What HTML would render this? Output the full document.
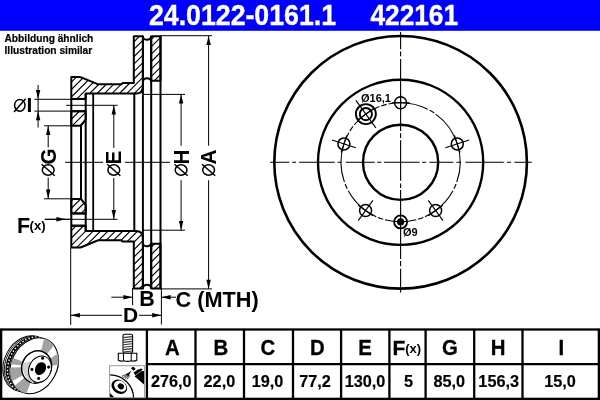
<!DOCTYPE html>
<html><head><meta charset="utf-8"><style>
html,body{margin:0;padding:0;background:#fff;width:600px;height:400px;overflow:hidden}
svg{display:block;will-change:transform}
</style></head><body>
<svg width="600" height="400" viewBox="0 0 600 400">
<rect x="0" y="0" width="600" height="30.8" fill="#0000ff"/>
<text x="149" y="24.8" font-family='"Liberation Sans", sans-serif' font-weight="bold" font-size="29.5" fill="#fff" stroke="#fff" stroke-width="0.4" transform="translate(149 0) scale(0.905 1) translate(-149 0)">24.0122-0161.1</text>
<text x="370.5" y="24.8" font-family='"Liberation Sans", sans-serif' font-weight="bold" font-size="29.5" fill="#fff" stroke="#fff" stroke-width="0.4" transform="translate(370.5 0) scale(0.89 1) translate(-370.5 0)">422161</text>
<text x="4.5" y="41.7" font-family='"Liberation Sans", sans-serif' font-weight="bold" font-size="10.2" stroke="#000" stroke-width="0.2" fill="#000">Abbildung ähnlich</text>
<text x="4.5" y="53.6" font-family='"Liberation Sans", sans-serif' font-weight="bold" font-size="10.2" stroke="#000" stroke-width="0.2" fill="#000">Illustration similar</text>
<circle cx="400.6" cy="162.3" r="126.3" fill="none" stroke="#000" stroke-width="2.6"/>
<circle cx="400.6" cy="162.3" r="82.6" fill="none" stroke="#000" stroke-width="2.4"/>
<circle cx="400.6" cy="162.3" r="37.6" fill="none" stroke="#000" stroke-width="2.4"/>
<path d="M400.60,102.70 A59.6,59.6 0 0 1 427.67,109.20 M429.79,110.34 A59.6,59.6 0 0 1 434.29,113.13 M435.67,114.11 A59.6,59.6 0 0 1 457.28,143.88 M400.60,102.70 A59.6,59.6 0 0 0 388.39,103.96 M386.63,104.36 A59.6,59.6 0 0 0 381.16,105.96 M379.47,106.57 A59.6,59.6 0 0 0 365.57,114.08 M343.92,143.88 A59.6,59.6 0 0 1 348.89,132.66 M349.81,131.11 A59.6,59.6 0 0 1 353.02,126.40 M354.13,124.98 A59.6,59.6 0 0 1 365.57,114.08 M343.92,143.88 A59.6,59.6 0 0 0 344.42,182.19 M345.11,184.06 A59.6,59.6 0 0 0 347.22,188.81 M348.24,190.76 A59.6,59.6 0 0 0 365.57,210.52 M457.28,143.88 A59.6,59.6 0 0 1 456.78,182.19 M456.09,184.06 A59.6,59.6 0 0 1 453.98,188.81 M452.96,190.76 A59.6,59.6 0 0 1 435.63,210.52 M365.57,210.52 A59.6,59.6 0 0 0 376.19,216.67 M377.84,217.39 A59.6,59.6 0 0 0 383.21,219.31 M384.94,219.81 A59.6,59.6 0 0 0 400.60,221.90 M435.63,210.52 A59.6,59.6 0 0 1 425.01,216.67 M423.36,217.39 A59.6,59.6 0 0 1 417.99,219.31 M416.26,219.81 A59.6,59.6 0 0 1 400.60,221.90" fill="none" stroke="#000" stroke-width="1.1"/>
<path d="M270.10,162.3 L289.40,162.3 M292.10,162.3 L296.10,162.3 M299.10,162.3 L334.80,162.3 M337.40,162.3 L341.60,162.3 M345.80,162.3 L374.80,162.3 M377.10,162.3 L381.40,162.3 M384.10,162.3 L419.70,162.3 M422.10,162.3 L426.10,162.3 M429.40,162.3 L453.40,162.3 M456.40,162.3 L461.10,162.3 M465.50,162.3 L503.80,162.3 M506.80,162.3 L511.10,162.3 M514.40,162.3 L531.80,162.3 M400.6,32.10 L400.6,49.30 M400.6,51.40 L400.6,56.30 M400.6,58.90 L400.6,130.90 M400.6,133.20 L400.6,137.90 M400.6,140.20 L400.6,180.70 M400.6,183.60 L400.6,188.00 M400.6,190.10 L400.6,259.10 M400.6,260.90 L400.6,266.20 M400.6,268.80 L400.6,292.40" stroke="#000" stroke-width="1.1" fill="none"/>
<circle cx="400.60" cy="102.70" r="6.0" fill="none" stroke="#000" stroke-width="1.5"/>
<line x1="400.6" y1="94.70000000000002" x2="400.6" y2="110.70000000000002" stroke="#000" stroke-width="1.1"/>
<line x1="409.60" y1="102.70" x2="391.60" y2="102.70" stroke="#000" stroke-width="1.1"/>
<circle cx="343.92" cy="143.88" r="6.0" fill="none" stroke="#000" stroke-width="1.5"/>
<line x1="355.81" y1="147.75" x2="332.03" y2="140.02" stroke="#000" stroke-width="1.1"/>
<line x1="346.70" y1="135.32" x2="341.14" y2="152.44" stroke="#000" stroke-width="1.1"/>
<circle cx="365.57" cy="210.52" r="6.0" fill="none" stroke="#000" stroke-width="1.5"/>
<line x1="372.92" y1="200.40" x2="358.22" y2="220.63" stroke="#000" stroke-width="1.1"/>
<line x1="358.29" y1="205.23" x2="372.85" y2="215.81" stroke="#000" stroke-width="1.1"/>
<circle cx="435.63" cy="210.52" r="6.0" fill="none" stroke="#000" stroke-width="1.5"/>
<line x1="428.28" y1="200.40" x2="442.98" y2="220.63" stroke="#000" stroke-width="1.1"/>
<line x1="428.35" y1="215.81" x2="442.91" y2="205.23" stroke="#000" stroke-width="1.1"/>
<circle cx="457.28" cy="143.88" r="6.0" fill="none" stroke="#000" stroke-width="1.5"/>
<line x1="445.39" y1="147.75" x2="469.17" y2="140.02" stroke="#000" stroke-width="1.1"/>
<line x1="460.06" y1="152.44" x2="454.50" y2="135.32" stroke="#000" stroke-width="1.1"/>
<circle cx="365.87" cy="114.08" r="10.0" fill="none" stroke="#000" stroke-width="1.9"/>
<circle cx="365.87" cy="114.08" r="6.1" fill="none" stroke="#000" stroke-width="1.9"/>
<line x1="375.86" y1="127.84" x2="355.88" y2="100.33" stroke="#000" stroke-width="1.1"/>
<line x1="373.96" y1="108.20" x2="357.78" y2="119.96" stroke="#000" stroke-width="1.1"/>
<circle cx="400.60" cy="221.90" r="6.5" fill="none" stroke="#000" stroke-width="1.8"/>
<circle cx="400.60" cy="221.90" r="3.6" fill="#000"/>
<text x="361" y="102" font-family='"Liberation Sans", sans-serif' font-weight="bold" font-size="11" fill="#000">Ø16,1</text>
<text x="403" y="235.8" font-family='"Liberation Sans", sans-serif' font-weight="bold" font-size="11" fill="#000">Ø9</text>
<defs><clipPath id="hc"><path d="M71.3,77 L79.0,77 Q80.2,77 81.2,77.4 L96.4,83.6 Q97.4,84.3 98.8,84.3 L121.5,84.3 L122.5,83.1 L133.8,83.1 L133.8,36.2 L142.9,36.2 L142.9,86.5 Q142.9,93.6 136,93.6 L85.7,93.6 L85.7,98.9 L71.3,98.9 Z"/><path d="M71.3,111.2 L85.7,111.2 L85.7,119.4 L81.0,125.7 L71.3,125.7 Z"/><path d="M151.2,36.2 L160.5,36.2 L160.5,80.8 L151.2,80.8 Z"/><path d="M71.3,247.6 L79.0,247.6 Q80.2,247.6 81.2,247.2 L96.4,241.0 Q97.4,240.3 98.8,240.3 L121.5,240.3 L122.5,241.5 L133.8,241.5 L133.8,288.4 L142.9,288.4 L142.9,238.1 Q142.9,231.0 136,231.0 L85.7,231.0 L85.7,225.7 L71.3,225.7 Z"/><path d="M71.3,213.4 L85.7,213.4 L85.7,205.2 L81.0,198.9 L71.3,198.9 Z"/><path d="M151.2,288.4 L160.5,288.4 L160.5,243.8 L151.2,243.8 Z"/></clipPath></defs>
<path d="M60,56.39 L170,-53.61 M60,63.812 L170,-46.188 M60,71.23400000000001 L170,-38.76599999999999 M60,78.656 L170,-31.343999999999994 M60,86.078 L170,-23.921999999999997 M60,93.5 L170,-16.5 M60,100.922 L170,-9.078000000000003 M60,108.344 L170,-1.656000000000006 M60,115.76599999999999 L170,5.765999999999991 M60,123.18799999999999 L170,13.187999999999988 M60,130.61 L170,20.610000000000014 M60,138.03199999999998 L170,28.031999999999982 M60,145.454 L170,35.45400000000001 M60,152.876 L170,42.876000000000005 M60,160.298 L170,50.298 M60,167.72 L170,57.72 M60,175.142 L170,65.142 M60,182.564 L170,72.564 M60,189.986 L170,79.98599999999999 M60,197.40800000000002 L170,87.40800000000002 M60,204.82999999999998 L170,94.82999999999998 M60,212.252 L170,102.25200000000001 M60,219.67399999999998 L170,109.67399999999998 M60,227.096 L170,117.096 M60,234.51800000000003 L170,124.51800000000003 M60,241.94 L170,131.94 M60,249.36199999999997 L170,139.36199999999997 M60,256.784 L170,146.784 M60,264.206 L170,154.20600000000002 M60,271.628 L170,161.628 M60,279.04999999999995 L170,169.04999999999995 M60,286.472 L170,176.47199999999998 M60,293.894 L170,183.894 M60,301.31600000000003 L170,191.31600000000003 M60,308.738 L170,198.738 M60,316.15999999999997 L170,206.15999999999997 M60,323.582 L170,213.582 M60,331.004 L170,221.00400000000002 M60,338.426 L170,228.426 M60,345.84799999999996 L170,235.84799999999996 M60,353.27 L170,243.26999999999998 M60,360.692 L170,250.692 M60,368.114 L170,258.114 M60,375.536 L170,265.536 M60,382.95799999999997 L170,272.95799999999997 M60,390.38 L170,280.38 M60,397.80199999999996 L170,287.80199999999996 M60,405.224 L170,295.224 M60,412.646 L170,302.646 M60,420.068 L170,310.068 M60,427.49 L170,317.49 M60,434.912 L170,324.912 M60,442.334 L170,332.334 M60,449.756 L170,339.756 M60,457.178 L170,347.178 M60,464.5999999999999 L170,354.5999999999999 M60,472.02199999999993 L170,362.02199999999993 M60,479.44399999999996 L170,369.44399999999996 M60,486.866 L170,376.866 M60,494.288 L170,384.288 M60,501.71000000000004 L170,391.71000000000004 M60,509.13200000000006 L170,399.13200000000006 M60,516.554 L170,406.554 M60,523.976 L170,413.976 M60,531.3979999999999 L170,421.3979999999999" stroke="#000" stroke-width="1.15" clip-path="url(#hc)" fill="none"/>
<path d="M71.3,77 L79.0,77 Q80.2,77 81.2,77.4 L96.4,83.6 Q97.4,84.3 98.8,84.3 L121.5,84.3 L122.5,83.1 L133.8,83.1 L133.8,36.2 L142.9,36.2 L142.9,86.5 Q142.9,93.6 136,93.6 L85.7,93.6 L85.7,98.9 L71.3,98.9 Z" fill="none" stroke="#000" stroke-width="2.0" stroke-linejoin="round"/>
<path d="M71.3,111.2 L85.7,111.2 L85.7,119.4 L81.0,125.7 L71.3,125.7 Z" fill="none" stroke="#000" stroke-width="2.0" stroke-linejoin="round"/>
<path d="M151.2,36.2 L160.5,36.2 L160.5,80.8 L151.2,80.8 Z" fill="none" stroke="#000" stroke-width="2.0" stroke-linejoin="round"/>
<path d="M71.3,247.6 L79.0,247.6 Q80.2,247.6 81.2,247.2 L96.4,241.0 Q97.4,240.3 98.8,240.3 L121.5,240.3 L122.5,241.5 L133.8,241.5 L133.8,288.4 L142.9,288.4 L142.9,238.1 Q142.9,231.0 136,231.0 L85.7,231.0 L85.7,225.7 L71.3,225.7 Z" fill="none" stroke="#000" stroke-width="2.0" stroke-linejoin="round"/>
<path d="M71.3,213.4 L85.7,213.4 L85.7,205.2 L81.0,198.9 L71.3,198.9 Z" fill="none" stroke="#000" stroke-width="2.0" stroke-linejoin="round"/>
<path d="M151.2,288.4 L160.5,288.4 L160.5,243.8 L151.2,243.8 Z" fill="none" stroke="#000" stroke-width="2.0" stroke-linejoin="round"/>
<line x1="71.3" y1="98.9" x2="71.3" y2="225.7" stroke="#000" stroke-width="2.0"/>
<line x1="81.0" y1="125.7" x2="81.0" y2="198.9" stroke="#000" stroke-width="2.0"/>
<line x1="85.7" y1="93.6" x2="85.7" y2="231.0" stroke="#000" stroke-width="2.0"/>
<line x1="93.2" y1="93.6" x2="93.2" y2="231.0" stroke="#000" stroke-width="1.8"/>
<line x1="134.3" y1="93.6" x2="134.3" y2="231.0" stroke="#000" stroke-width="2.0"/>
<line x1="142.9" y1="36.2" x2="142.9" y2="288.4" stroke="#000" stroke-width="2.0"/>
<line x1="151.2" y1="36.2" x2="151.2" y2="288.4" stroke="#000" stroke-width="2.0"/>
<line x1="160.5" y1="36.2" x2="160.5" y2="288.4" stroke="#000" stroke-width="2.0"/>
<line x1="71.3" y1="98.9" x2="85.7" y2="98.9" stroke="#000" stroke-width="2.0"/>
<line x1="71.3" y1="225.7" x2="85.7" y2="225.7" stroke="#000" stroke-width="2.0"/>
<line x1="71.3" y1="111.2" x2="85.7" y2="111.2" stroke="#000" stroke-width="2.0"/>
<line x1="71.3" y1="213.4" x2="85.7" y2="213.4" stroke="#000" stroke-width="2.0"/>
<path d="M142.9,36.2 A4.1499999999999915 3.6 0 0 0 151.2,36.2" fill="none" stroke="#000" stroke-width="2.0"/>
<path d="M142.9,288.4 A4.1499999999999915 3.6 0 0 1 151.2,288.4" fill="none" stroke="#000" stroke-width="2.0"/>
<path d="M142.9,81.9 A4.1499999999999915 3.6 0 0 1 151.2,81.9" fill="none" stroke="#000" stroke-width="2.0"/>
<path d="M142.9,242.7 A4.1499999999999915 3.6 0 0 0 151.2,242.7" fill="none" stroke="#000" stroke-width="2.0"/>
<line x1="65" y1="162.3" x2="170" y2="162.3" stroke="#000" stroke-width="1"/>
<rect x="103" y="148" width="22" height="30" fill="#fff"/>
<line x1="34.4" y1="99.3" x2="71.3" y2="99.3" stroke="#000" stroke-width="1"/>
<line x1="34.4" y1="111.1" x2="71.3" y2="111.1" stroke="#000" stroke-width="1"/>
<line x1="38.1" y1="85" x2="38.1" y2="127.5" stroke="#000" stroke-width="1"/>
<polygon points="38.10,99.30 35.90,90.10 40.30,90.10" fill="#000"/>
<polygon points="38.10,111.10 35.90,120.30 40.30,120.30" fill="#000"/>
<line x1="66.2" y1="105.3" x2="117.6" y2="105.3" stroke="#000" stroke-width="1"/>
<line x1="45" y1="219.3" x2="117.6" y2="219.3" stroke="#000" stroke-width="1"/>
<line x1="44" y1="125.8" x2="71.3" y2="125.8" stroke="#000" stroke-width="1"/>
<line x1="44" y1="198.8" x2="71.3" y2="198.8" stroke="#000" stroke-width="1"/>
<line x1="48.2" y1="125.8" x2="48.2" y2="147.5" stroke="#000" stroke-width="1"/>
<line x1="48.2" y1="177.5" x2="48.2" y2="198.8" stroke="#000" stroke-width="1"/>
<polygon points="48.20,125.80 46.00,135.00 50.40,135.00" fill="#000"/>
<polygon points="48.20,198.80 46.00,189.60 50.40,189.60" fill="#000"/>
<line x1="113.8" y1="105.3" x2="113.8" y2="148" stroke="#000" stroke-width="1"/>
<line x1="113.8" y1="178" x2="113.8" y2="219.3" stroke="#000" stroke-width="1"/>
<polygon points="113.80,105.30 111.60,114.50 116.00,114.50" fill="#000"/>
<polygon points="113.80,219.30 111.60,210.10 116.00,210.10" fill="#000"/>
<line x1="142.9" y1="94.4" x2="185" y2="94.4" stroke="#000" stroke-width="1"/>
<line x1="142.9" y1="230.2" x2="185" y2="230.2" stroke="#000" stroke-width="1"/>
<line x1="181.1" y1="94.4" x2="181.1" y2="145.7" stroke="#000" stroke-width="1"/>
<line x1="181.1" y1="180.2" x2="181.1" y2="230.2" stroke="#000" stroke-width="1"/>
<polygon points="181.10,94.40 178.90,103.60 183.30,103.60" fill="#000"/>
<polygon points="181.10,230.20 178.90,221.00 183.30,221.00" fill="#000"/>
<line x1="160.5" y1="35.7" x2="212" y2="35.7" stroke="#000" stroke-width="1"/>
<line x1="160.5" y1="288.9" x2="212" y2="288.9" stroke="#000" stroke-width="1"/>
<line x1="208.6" y1="35.7" x2="208.6" y2="145.7" stroke="#000" stroke-width="1"/>
<line x1="208.6" y1="180.2" x2="208.6" y2="288.9" stroke="#000" stroke-width="1"/>
<polygon points="208.60,35.70 206.40,44.90 210.80,44.90" fill="#000"/>
<polygon points="208.60,288.90 206.40,279.70 210.80,279.70" fill="#000"/>
<line x1="44.7" y1="219.3" x2="71.3" y2="219.3" stroke="#000" stroke-width="1"/>
<polygon points="65.80,219.30 56.40,217.00 56.40,221.60" fill="#000"/>
<line x1="132.6" y1="288" x2="132.6" y2="305.2" stroke="#000" stroke-width="1"/>
<line x1="161.4" y1="288" x2="161.4" y2="324.5" stroke="#000" stroke-width="1"/>
<line x1="70.7" y1="247.6" x2="70.7" y2="324.8" stroke="#000" stroke-width="1"/>
<line x1="111.3" y1="297.2" x2="132.6" y2="297.2" stroke="#000" stroke-width="1"/>
<polygon points="132.60,297.20 123.40,295.00 123.40,299.40" fill="#000"/>
<line x1="161.4" y1="297.2" x2="176" y2="297.2" stroke="#000" stroke-width="1"/>
<polygon points="161.40,297.20 170.60,295.00 170.60,299.40" fill="#000"/>
<line x1="70.7" y1="315.3" x2="121.9" y2="315.3" stroke="#000" stroke-width="1"/>
<polygon points="70.70,315.30 79.90,313.10 79.90,317.50" fill="#000"/>
<line x1="139.2" y1="315.3" x2="161.4" y2="315.3" stroke="#000" stroke-width="1"/>
<polygon points="161.40,315.30 152.20,313.10 152.20,317.50" fill="#000"/>
<ellipse cx="19.8" cy="105.3" rx="5.2" ry="5.9" fill="none" stroke="#000" stroke-width="1.5"/>
<line x1="14.0" y1="111.89999999999999" x2="25.6" y2="98.7" stroke="#000" stroke-width="1.5"/>
<text x="26.5" y="112.3" font-family='"Liberation Sans", sans-serif' font-weight="bold" font-size="21" fill="#000">I</text>
<ellipse cx="48.2" cy="170.0" rx="5.9" ry="5.2" fill="none" stroke="#000" stroke-width="1.5"/>
<line x1="41.6" y1="164.2" x2="54.800000000000004" y2="175.8" stroke="#000" stroke-width="1.5"/>
<text x="0" y="0" font-family='"Liberation Sans", sans-serif' font-weight="bold" font-size="22" fill="#000" transform="translate(55.6 164.4) rotate(-90) scale(0.94 1)">G</text>
<ellipse cx="113.8" cy="170.0" rx="5.9" ry="5.2" fill="none" stroke="#000" stroke-width="1.5"/>
<line x1="107.2" y1="164.2" x2="120.39999999999999" y2="175.8" stroke="#000" stroke-width="1.5"/>
<text x="0" y="0" font-family='"Liberation Sans", sans-serif' font-weight="bold" font-size="22" fill="#000" transform="translate(121.3 164.4) rotate(-90) scale(0.94 1)">E</text>
<ellipse cx="181.1" cy="170.0" rx="5.9" ry="5.2" fill="none" stroke="#000" stroke-width="1.5"/>
<line x1="174.5" y1="164.2" x2="187.7" y2="175.8" stroke="#000" stroke-width="1.5"/>
<text x="0" y="0" font-family='"Liberation Sans", sans-serif' font-weight="bold" font-size="22" fill="#000" transform="translate(189.2 164.4) rotate(-90) scale(0.94 1)">H</text>
<ellipse cx="208.6" cy="170.0" rx="5.9" ry="5.2" fill="none" stroke="#000" stroke-width="1.5"/>
<line x1="202.0" y1="164.2" x2="215.2" y2="175.8" stroke="#000" stroke-width="1.5"/>
<text x="0" y="0" font-family='"Liberation Sans", sans-serif' font-weight="bold" font-size="22" fill="#000" transform="translate(215.7 164.4) rotate(-90) scale(0.94 1)">A</text>
<text x="16.9" y="232.5" font-family='"Liberation Sans", sans-serif' font-weight="bold" font-size="21.5" fill="#000">F</text>
<text x="29.6" y="229.9" font-family='"Liberation Sans", sans-serif' font-weight="bold" font-size="13.2" fill="#000">(x)</text>
<text x="139.3" y="306.2" font-family='"Liberation Sans", sans-serif' font-weight="bold" font-size="21.5" fill="#000">B</text>
<text x="175.5" y="306.6" font-family='"Liberation Sans", sans-serif' font-weight="bold" font-size="21.7" fill="#000">C (MTH)</text>
<text x="123" y="321.7" font-family='"Liberation Sans", sans-serif' font-weight="bold" font-size="21" fill="#000">D</text>
<rect x="1.15" y="329.5" width="597.7" height="69.35" fill="none" stroke="#000" stroke-width="2.3"/>
<line x1="146.9" y1="329.5" x2="146.9" y2="398.8" stroke="#000" stroke-width="2.3"/>
<line x1="195.5" y1="329.5" x2="195.5" y2="398.8" stroke="#000" stroke-width="2.3"/>
<line x1="244.0" y1="329.5" x2="244.0" y2="398.8" stroke="#000" stroke-width="2.3"/>
<line x1="293.0" y1="329.5" x2="293.0" y2="398.8" stroke="#000" stroke-width="2.3"/>
<line x1="341.1" y1="329.5" x2="341.1" y2="398.8" stroke="#000" stroke-width="2.3"/>
<line x1="389.4" y1="329.5" x2="389.4" y2="398.8" stroke="#000" stroke-width="2.3"/>
<line x1="425.6" y1="329.5" x2="425.6" y2="398.8" stroke="#000" stroke-width="2.3"/>
<line x1="474.2" y1="329.5" x2="474.2" y2="398.8" stroke="#000" stroke-width="2.3"/>
<line x1="522.5" y1="329.5" x2="522.5" y2="398.8" stroke="#000" stroke-width="2.3"/>
<line x1="146.9" y1="364.1" x2="598.8" y2="364.1" stroke="#000" stroke-width="2.3"/>
<text x="172.25" y="354.8" text-anchor="middle" font-family='"Liberation Sans", sans-serif' font-weight="bold" font-size="21.2" fill="#000" stroke="#000" stroke-width="0.3" transform="translate(172.25 0) scale(0.96 1) translate(-172.25 0)">A</text>
<text x="171.25" y="387.2" text-anchor="middle" font-family='"Liberation Sans", sans-serif' font-weight="bold" font-size="17.4" fill="#000" stroke="#000" stroke-width="0.2" transform="translate(171.25 0) scale(0.935 1) translate(-171.25 0)">276,0</text>
<text x="220.9" y="354.8" text-anchor="middle" font-family='"Liberation Sans", sans-serif' font-weight="bold" font-size="21.2" fill="#000" stroke="#000" stroke-width="0.3" transform="translate(220.9 0) scale(0.96 1) translate(-220.9 0)">B</text>
<text x="219.4" y="387.2" text-anchor="middle" font-family='"Liberation Sans", sans-serif' font-weight="bold" font-size="17.4" fill="#000" stroke="#000" stroke-width="0.2" transform="translate(219.4 0) scale(0.935 1) translate(-219.4 0)">22,0</text>
<text x="267.9" y="354.8" text-anchor="middle" font-family='"Liberation Sans", sans-serif' font-weight="bold" font-size="21.2" fill="#000" stroke="#000" stroke-width="0.3" transform="translate(267.9 0) scale(0.96 1) translate(-267.9 0)">C</text>
<text x="267.6" y="387.2" text-anchor="middle" font-family='"Liberation Sans", sans-serif' font-weight="bold" font-size="17.4" fill="#000" stroke="#000" stroke-width="0.2" transform="translate(267.6 0) scale(0.935 1) translate(-267.6 0)">19,0</text>
<text x="317.4" y="354.8" text-anchor="middle" font-family='"Liberation Sans", sans-serif' font-weight="bold" font-size="21.2" fill="#000" stroke="#000" stroke-width="0.3" transform="translate(317.4 0) scale(0.96 1) translate(-317.4 0)">D</text>
<text x="315.0" y="387.2" text-anchor="middle" font-family='"Liberation Sans", sans-serif' font-weight="bold" font-size="17.4" fill="#000" stroke="#000" stroke-width="0.2" transform="translate(315.0 0) scale(0.935 1) translate(-315.0 0)">77,2</text>
<text x="365.0" y="354.8" text-anchor="middle" font-family='"Liberation Sans", sans-serif' font-weight="bold" font-size="21.2" fill="#000" stroke="#000" stroke-width="0.3" transform="translate(365.0 0) scale(0.96 1) translate(-365.0 0)">E</text>
<text x="365.0" y="387.2" text-anchor="middle" font-family='"Liberation Sans", sans-serif' font-weight="bold" font-size="17.4" fill="#000" stroke="#000" stroke-width="0.2" transform="translate(365.0 0) scale(0.935 1) translate(-365.0 0)">130,0</text>
<text x="392.6" y="354.8" font-family='"Liberation Sans", sans-serif' font-weight="bold" font-size="21" stroke="#000" stroke-width="0.3" fill="#000">F</text>
<text x="405.2" y="352.5" font-family='"Liberation Sans", sans-serif' font-weight="bold" font-size="13" fill="#000">(x)</text>
<text x="408.5" y="387.2" text-anchor="middle" font-family='"Liberation Sans", sans-serif' font-weight="bold" font-size="17.4" fill="#000" stroke="#000" stroke-width="0.2" transform="translate(408.5 0) scale(0.935 1) translate(-408.5 0)">5</text>
<text x="450.0" y="354.8" text-anchor="middle" font-family='"Liberation Sans", sans-serif' font-weight="bold" font-size="21.2" fill="#000" stroke="#000" stroke-width="0.3" transform="translate(450.0 0) scale(0.96 1) translate(-450.0 0)">G</text>
<text x="449.25" y="387.2" text-anchor="middle" font-family='"Liberation Sans", sans-serif' font-weight="bold" font-size="17.4" fill="#000" stroke="#000" stroke-width="0.2" transform="translate(449.25 0) scale(0.935 1) translate(-449.25 0)">85,0</text>
<text x="498.1" y="354.8" text-anchor="middle" font-family='"Liberation Sans", sans-serif' font-weight="bold" font-size="21.2" fill="#000" stroke="#000" stroke-width="0.3" transform="translate(498.1 0) scale(0.96 1) translate(-498.1 0)">H</text>
<text x="498.7" y="387.2" text-anchor="middle" font-family='"Liberation Sans", sans-serif' font-weight="bold" font-size="17.4" fill="#000" stroke="#000" stroke-width="0.2" transform="translate(498.7 0) scale(0.935 1) translate(-498.7 0)">156,3</text>
<text x="561.4" y="354.8" text-anchor="middle" font-family='"Liberation Sans", sans-serif' font-weight="bold" font-size="21.2" fill="#000" stroke="#000" stroke-width="0.3" transform="translate(561.4 0) scale(0.96 1) translate(-561.4 0)">I</text>
<text x="560.0" y="387.2" text-anchor="middle" font-family='"Liberation Sans", sans-serif' font-weight="bold" font-size="17.4" fill="#000" stroke="#000" stroke-width="0.2" transform="translate(560.0 0) scale(0.935 1) translate(-560.0 0)">15,0</text>
<defs><clipPath id="faceclip"><ellipse cx="34.30" cy="365.80" rx="22.8" ry="29.1" transform="rotate(26.9 34.30 365.80)" /></clipPath></defs>
<ellipse cx="27.10" cy="363.70" rx="22.8" ry="29.1" transform="rotate(26.9 27.10 363.70)" fill="#fff" stroke="#000" stroke-width="1"/>
<ellipse cx="28.54" cy="364.12" rx="22.8" ry="29.1" transform="rotate(26.9 28.54 364.12)" fill="none" stroke="#000" stroke-width="0.8"/>
<ellipse cx="29.69" cy="364.46" rx="22.8" ry="29.1" transform="rotate(26.9 29.69 364.46)" fill="#000"/>
<ellipse cx="31.71" cy="365.04" rx="22.8" ry="29.1" transform="rotate(26.9 31.71 365.04)" fill="none" stroke="#fff" stroke-width="1.5" stroke-dasharray="1.4 2.0"/>
<ellipse cx="33.58" cy="365.59" rx="22.8" ry="29.1" transform="rotate(26.9 33.58 365.59)" fill="#fff"/>
<ellipse cx="34.30" cy="365.80" rx="22.8" ry="29.1" transform="rotate(26.9 34.30 365.80)" fill="#fff" stroke="#000" stroke-width="1.1"/>
<polygon points="37.0,367.0 46.68,328.19 61.63,335.48" fill="#a2a2a2" clip-path="url(#faceclip)"/>
<polygon points="37.0,367.0 70.55,345.21 76.85,363.51" fill="#a2a2a2" clip-path="url(#faceclip)"/>
<polygon points="37.0,367.0 -2.78,362.82 -0.34,352.67" fill="#a2a2a2" clip-path="url(#faceclip)"/>
<polygon points="37.0,367.0 2.36,387.00 -2.99,367.70" fill="#a2a2a2" clip-path="url(#faceclip)"/>
<polygon points="37.0,367.0 22.02,404.09 6.36,392.71" fill="#a2a2a2" clip-path="url(#faceclip)"/>
<ellipse cx="36.6" cy="367.0" rx="14.6" ry="16.4" transform="rotate(25 36.6 367)" fill="#fff" stroke="#000" stroke-width="1.5"/>
<path d="M22.6,364 Q22.5,378 33,383.5 L35.5,378 Q30,372 30,361 Z" fill="#d0d0d0"/>
<ellipse cx="40.0" cy="369.2" rx="11.0" ry="13.6" transform="rotate(25 40 369.2)" fill="#fff" stroke="#000" stroke-width="1"/>
<ellipse cx="40.5" cy="368.6" rx="5.2" ry="6.8" transform="rotate(30 40.5 368.6)" fill="#000"/>
<ellipse cx="42.6" cy="358.2" rx="1.5" ry="1.6" fill="#000"/>
<ellipse cx="48.6" cy="367.1" rx="1.5" ry="1.6" fill="#000"/>
<ellipse cx="38.6" cy="378.4" rx="1.5" ry="1.6" fill="#000"/>
<ellipse cx="31.9" cy="369.4" rx="1.5" ry="1.6" fill="#000"/>
<rect x="123" y="334.2" width="9.6" height="19" rx="1.6" fill="#fff" stroke="#000" stroke-width="1.1"/>
<line x1="123.6" y1="337.6" x2="132" y2="336.6" stroke="#333" stroke-width="1.1"/>
<line x1="123.6" y1="340.0" x2="132" y2="339.0" stroke="#333" stroke-width="1.1"/>
<line x1="123.6" y1="342.40000000000003" x2="132" y2="341.40000000000003" stroke="#333" stroke-width="1.1"/>
<line x1="123.6" y1="344.8" x2="132" y2="343.8" stroke="#333" stroke-width="1.1"/>
<line x1="123.6" y1="347.20000000000005" x2="132" y2="346.20000000000005" stroke="#333" stroke-width="1.1"/>
<line x1="123.6" y1="349.6" x2="132" y2="348.6" stroke="#333" stroke-width="1.1"/>
<line x1="123.6" y1="352.0" x2="132" y2="351.0" stroke="#333" stroke-width="1.1"/>
<path d="M118.3,353.2 L136.8,353.2 L136.8,360.2 Q134,361.6 131.2,360.8 Q127.6,362 123.6,360.8 Q120.8,361.6 118.3,360.2 Z" fill="#fff" stroke="#000" stroke-width="1.1"/>
<line x1="123.5" y1="353.2" x2="123.5" y2="360.8" stroke="#000" stroke-width="1"/>
<line x1="131.2" y1="353.2" x2="131.2" y2="360.8" stroke="#000" stroke-width="1"/>
<rect x="109.6" y="365.7" width="35" height="32" fill="#fff" stroke="#999" stroke-width="1"/>
<defs><clipPath id="sprclip"><rect x="110.1" y="366.2" width="34" height="31.2"/></clipPath></defs>
<g clip-path="url(#sprclip)">
<circle cx="110" cy="398.5" r="23.6" fill="none" stroke="#000" stroke-width="1.3"/>
<ellipse cx="119.3" cy="386.8" rx="8.3" ry="6.6" transform="rotate(35 119.3 386.8)" fill="#000"/>
<ellipse cx="120.2" cy="386.2" rx="6.6" ry="5.0" transform="rotate(35 120.2 386.2)" fill="#fff"/>
<ellipse cx="120.9" cy="386.4" rx="3.3" ry="2.8" transform="rotate(35 120.9 386.4)" fill="#000"/>
<path d="M109.5,397.5 L109.5,392.5 L114.5,397.5 Z" fill="#000"/>
<path d="M133.6,372.4 Q137.5,368.8 141.5,368.4 L142.6,369.8 Q138.5,372.8 135.4,375.2 Z" fill="#000"/>
<path d="M134.6,376.2 L141.2,371.2 Q143,370.6 144.6,371.2 L144.6,385 Z" fill="#000"/>
<polygon points="131,368.3 133.2,366.6 135.7,369.1 133.5,370.8" fill="#000"/>
<path d="M131.6,370.6 L126.4,374.2 L128.2,376.2 Z" fill="#000"/>
<path d="M128,373.6 L121.9,376.4 M128.4,374.4 L123.4,377.6 M129.2,375 L124.9,378.6 M130,375.4 L126.7,379.3" stroke="#000" stroke-width="0.8" fill="none"/>
</g>
</svg>
</body></html>
